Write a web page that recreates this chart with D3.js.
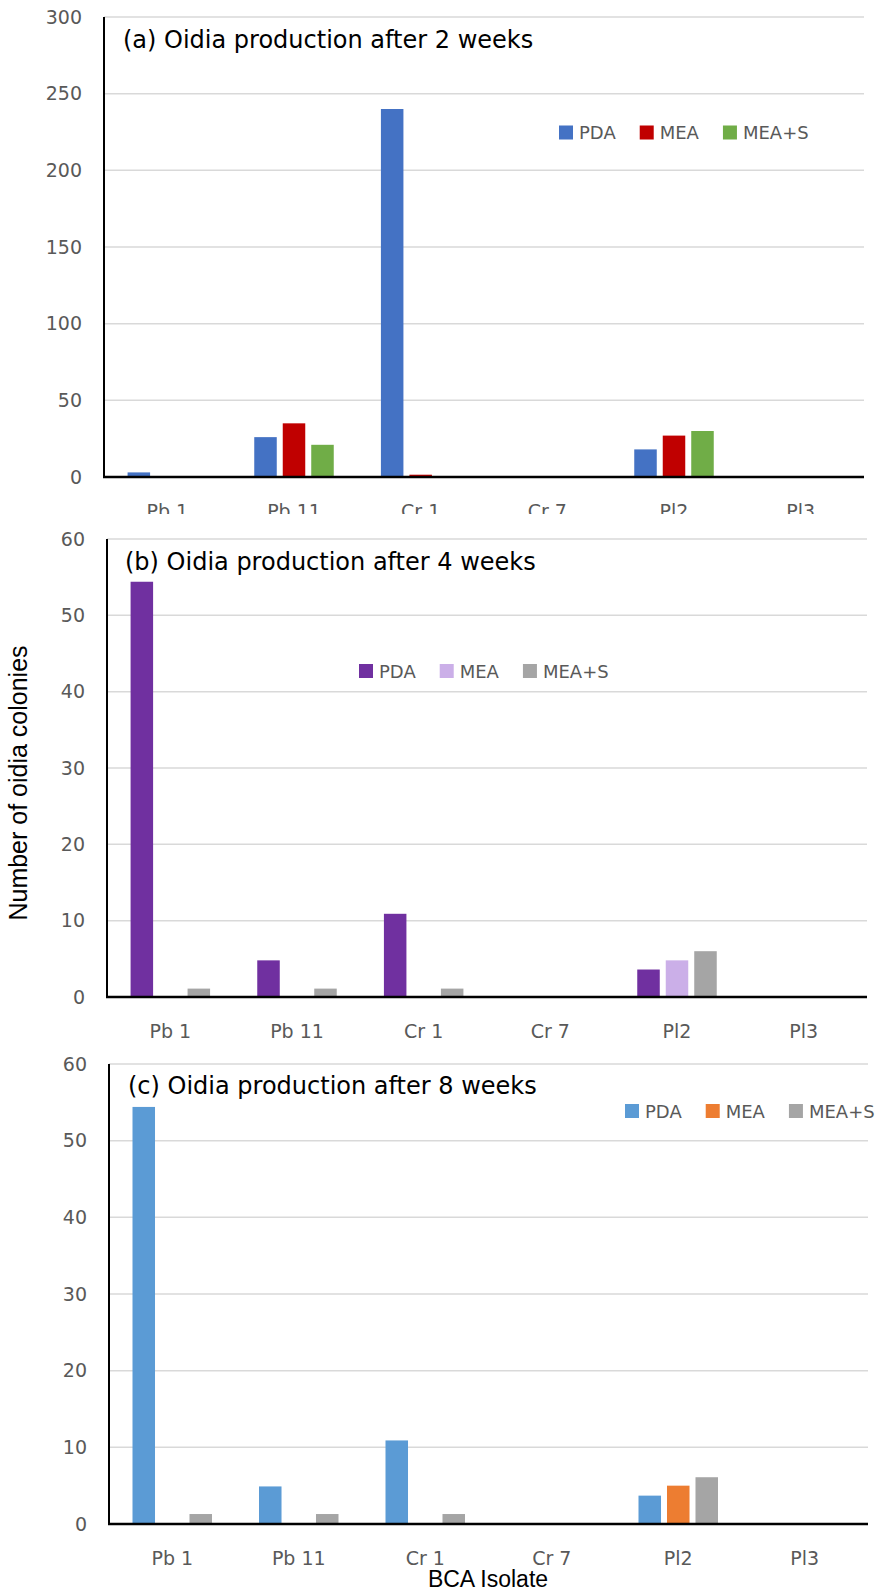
<!DOCTYPE html>
<html>
<head>
<meta charset="utf-8">
<script src="https://cdn.jsdelivr.net/npm/d3@7"></script>
<style>
  html, body { margin: 0; padding: 0; background: #fff; }
  svg { display: block; }
</style>
</head>
<body>
<div id="chart"></div>
<script>
// Oidia colony counts per BCA isolate on three media, at 2, 4 and 8 weeks
const categories = ["Pb 1", "Pb 11", "Cr 1", "Cr 7", "Pl2", "Pl3"];
const seriesNames = ["PDA", "MEA", "MEA+S"];

const week2PDA  = [3, 26, 240, 0, 18, 0];
const week2MEA  = [0, 35, 1.5, 0, 27, 0];
const week2MEAS = [0, 21, 0, 0, 30, 0];

const week4PDA  = [54.4, 4.8, 10.9, 0, 3.6, 0];
const week4MEA  = [0, 0, 0, 0, 4.8, 0];
const week4MEAS = [1.1, 1.1, 1.1, 0, 6.0, 0];

const week8PDA  = [54.4, 4.9, 10.9, 0, 3.7, 0];
const week8MEA  = [0, 0, 0, 0, 5.0, 0];
const week8MEAS = [1.3, 1.3, 1.3, 0, 6.1, 0];

const titles = [
  "(a) Oidia production after 2 weeks",
  "(b) Oidia production after 4 weeks",
  "(c) Oidia production after 8 weeks"
];
const yMax = [300, 60, 60];
const yStep = [50, 10, 10];

// Layout and colours for each panel
const panels = [
  { values: [week2PDA, week2MEA, week2MEAS], colors: ["#4472C4", "#C00000", "#70AD47"],
    left: 104, right: 864, top: 17, zero: 477, clip: [0, 514],
    titleX: 123, titleY: 48, legendX: 559, legendY: 132.5 },
  { values: [week4PDA, week4MEA, week4MEAS], colors: ["#7030A0", "#CBAFE8", "#A5A5A5"],
    left: 107, right: 867, top: 539, zero: 997, clip: [514, 1043],
    titleX: 125, titleY: 570, legendX: 359, legendY: 671 },
  { values: [week8PDA, week8MEA, week8MEAS], colors: ["#5B9BD5", "#ED7D31", "#A5A5A5"],
    left: 109, right: 868, top: 1064, zero: 1524, clip: [1043, 1593],
    titleX: 128, titleY: 1094, legendX: 625, legendY: 1111 }
];

const W = 877, H = 1593;
const tickFont = "DejaVu Sans";
const svg = d3.select("#chart").append("svg")
  .attr("width", W).attr("height", H)
  .attr("viewBox", `0 0 ${W} ${H}`);

svg.append("rect").attr("width", W).attr("height", H).attr("fill", "#fff");

const defs = svg.append("defs");

panels.forEach((p, i) => {
  defs.append("clipPath").attr("id", "clip" + i)
    .append("rect").attr("x", 0).attr("y", p.clip[0])
    .attr("width", W).attr("height", p.clip[1] - p.clip[0]);

  const g = svg.append("g").attr("clip-path", `url(#clip${i})`);
  g.append("rect").attr("x", 0).attr("y", p.clip[0])
    .attr("width", W).attr("height", p.clip[1] - p.clip[0]).attr("fill", "#fff");

  const x = d3.scaleBand().domain(categories).range([p.left, p.right]).padding(0);
  const groupW = 79.5;
  const xs = d3.scaleBand().domain(seriesNames)
    .range([(x.bandwidth() - groupW) / 2, (x.bandwidth() + groupW) / 2])
    .paddingInner(0.21).paddingOuter(0);
  const y = d3.scaleLinear().domain([0, yMax[i]]).range([p.zero, p.top]);
  const ticks = d3.range(0, yMax[i] + yStep[i] / 2, yStep[i]);

  // horizontal gridlines
  g.append("g").selectAll("line").data(ticks.filter(t => t > 0)).join("line")
    .attr("x1", p.left).attr("x2", p.right)
    .attr("y1", d => y(d)).attr("y2", d => y(d))
    .attr("stroke", "#D9D9D9").attr("stroke-width", 1.5);

  // y tick labels
  const yAxis = d3.axisLeft(y).tickValues(ticks).tickSize(0).tickPadding(22);
  const ya = g.append("g").attr("transform", `translate(${p.left},0)`).call(yAxis);
  ya.select(".domain").remove();
  ya.selectAll("text").attr("font-family", tickFont).attr("font-size", 19)
    .attr("fill", "#595959");

  // bars
  const rows = categories.map((c, ci) => ({ cat: c, vals: seriesNames.map((s, si) => ({ s, si, v: p.values[si][ci] })) }));
  g.append("g").selectAll("g").data(rows).join("g")
    .attr("transform", d => `translate(${x(d.cat)},0)`)
    .selectAll("rect").data(d => d.vals.filter(v => v.v > 0)).join("rect")
    .attr("x", d => xs(d.s)).attr("width", xs.bandwidth())
    .attr("y", d => y(d.v)).attr("height", d => y(0) - y(d.v))
    .attr("fill", d => p.colors[d.si]);

  // category labels
  const xAxis = d3.axisBottom(x).tickSize(0).tickPadding(0);
  const xa = g.append("g").attr("transform", `translate(0,${p.zero})`).call(xAxis);
  xa.select(".domain").remove();
  xa.selectAll("text").attr("font-family", tickFont).attr("font-size", 19)
    .attr("fill", "#595959").attr("dy", null).attr("y", 41);

  // axis lines
  g.append("line").attr("x1", p.left).attr("x2", p.left)
    .attr("y1", p.top).attr("y2", p.zero)
    .attr("stroke", "#000").attr("stroke-width", 2);
  g.append("line").attr("x1", p.left - 1).attr("x2", p.right)
    .attr("y1", p.zero).attr("y2", p.zero)
    .attr("stroke", "#000").attr("stroke-width", 2.5);

  // panel title
  g.append("text").attr("x", p.titleX).attr("y", p.titleY)
    .attr("font-family", tickFont).attr("font-size", 24).attr("fill", "#000")
    .text(titles[i]);

  // legend
  let lx = p.legendX;
  seriesNames.forEach((s, si) => {
    g.append("rect").attr("x", lx).attr("y", p.legendY - 7)
      .attr("width", 14).attr("height", 14).attr("fill", p.colors[si]);
    const t = g.append("text").attr("x", lx + 20).attr("y", p.legendY)
      .attr("dominant-baseline", "central")
      .attr("font-family", tickFont).attr("font-size", 18).attr("fill", "#595959")
      .text(s);
    lx += 20 + t.node().getComputedTextLength() + 24;
  });
});

// shared axis titles
svg.append("text")
  .attr("transform", "translate(27,783) rotate(-90)")
  .attr("text-anchor", "middle")
  .attr("font-family", "Liberation Sans").attr("font-size", 25).attr("fill", "#000")
  .text("Number of oidia colonies");

svg.append("text")
  .attr("x", 488).attr("y", 1587)
  .attr("text-anchor", "middle")
  .attr("font-family", "Liberation Sans").attr("font-size", 23).attr("fill", "#000")
  .text("BCA Isolate");
</script>
</body>
</html>
